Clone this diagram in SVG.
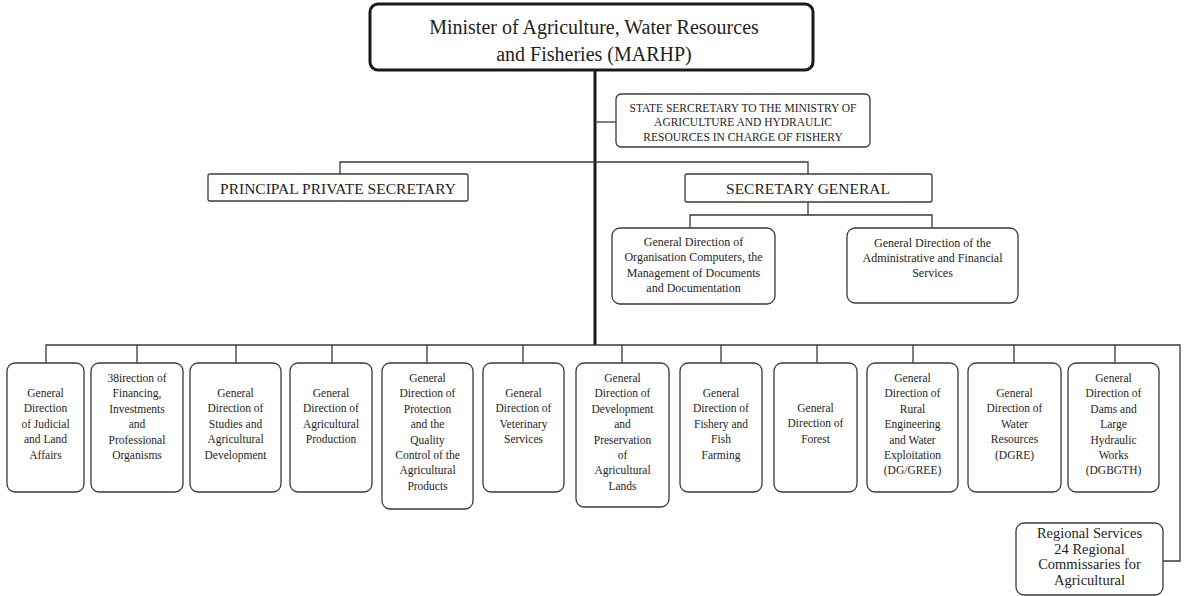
<svg xmlns="http://www.w3.org/2000/svg" width="1193" height="596" viewBox="0 0 1193 596">
<style>
text{font-family:"Liberation Serif","Times New Roman",serif;fill:#1e1e1e;text-anchor:middle}
.box{fill:#fff;stroke:#3a3a3a;stroke-width:1.3}
.t11{font-size:11.5px}
.t12{font-size:12px}
.t10{font-size:11.5px}
.t15{font-size:15.5px}
.t19{font-size:20px}
.t13{font-size:14.5px}
.ln{fill:none;stroke:#3a3a3a;stroke-width:1.3}
.main{fill:none;stroke:#1a1a1a;stroke-width:3}
</style>
<rect width="1193" height="596" fill="#fff"/>
<g id="connectors">
<path class="main" d="M595 70V345"/>
<path class="ln" d="M595 122H616"/>
<path class="ln" d="M340 174V162H808V174"/>
<path class="ln" d="M808 202V215M690 228V215H932V228"/>
<path class="ln" d="M46 363V345H1180V561H1163"/>
<path class="ln" d="M137 345V363M236 345V363M332 345V363M427 345V363M523 345V363M622 345V363M721 345V363M817 345V363M913 345V363M1014 345V363M1115 345V363"/>
</g>
<g id="minister">
<rect x="370" y="4" width="443" height="66" rx="8" fill="#fff" stroke="#1a1a1a" stroke-width="3"/>
<text class="t19" x="594" y="34">Minister of Agriculture, Water Resources</text>
<text class="t19" x="594" y="61">and Fisheries (MARHP)</text>
</g>
<g id="state-secretary">
<rect class="box" x="616" y="94" width="254" height="53" rx="5" stroke="#666"/>
<text class="t10" x="743" y="112">STATE SERCRETARY TO THE MINISTRY OF</text>
<text class="t10" x="743" y="126">AGRICULTURE AND HYDRAULIC</text>
<text class="t10" x="743" y="141">RESOURCES IN CHARGE OF FISHERY</text>
</g>
<g id="principal-private-secretary">
<rect class="box" x="208" y="174" width="260" height="27" rx="2"/>
<text class="t15" x="338" y="194">PRINCIPAL PRIVATE SECRETARY</text>
</g>
<g id="secretary-general">
<rect class="box" x="685" y="174" width="247" height="28" rx="2"/>
<text class="t15" x="808" y="194">SECRETARY GENERAL</text>
</g>
<g id="gd-organisation">
<rect class="box" x="612" y="228" width="163" height="76" rx="8"/>
<text class="t12" x="693.5" y="245.5">General Direction of</text>
<text class="t12" x="693.5" y="261">Organisation Computers, the</text>
<text class="t12" x="693.5" y="276.5">Management of Documents</text>
<text class="t12" x="693.5" y="292">and Documentation</text>
</g>
<g id="gd-administrative">
<rect class="box" x="847" y="228" width="171" height="75" rx="8"/>
<text class="t12" x="932.5" y="247">General Direction of the</text>
<text class="t12" x="932.5" y="262">Administrative and Financial</text>
<text class="t12" x="932.5" y="277">Services</text>
</g>
<g id="gd-judicial">
<rect class="box" x="7" y="363" width="77" height="129" rx="8"/>
<text class="t11" x="45.5" y="397">General</text>
<text class="t11" x="45.5" y="412.4">Direction</text>
<text class="t11" x="45.5" y="427.8">of Judicial</text>
<text class="t11" x="45.5" y="443.2">and Land</text>
<text class="t11" x="45.5" y="458.6">Affairs</text>
</g>
<g id="gd-financing">
<rect class="box" x="91" y="363" width="92" height="129" rx="8"/>
<text class="t11" x="137" y="382">38irection of</text>
<text class="t11" x="137" y="397.4">Financing,</text>
<text class="t11" x="137" y="412.8">Investments</text>
<text class="t11" x="137" y="428.2">and</text>
<text class="t11" x="137" y="443.6">Professional</text>
<text class="t11" x="137" y="459">Organisms</text>
</g>
<g id="gd-studies">
<rect class="box" x="190" y="363" width="91" height="129" rx="8"/>
<text class="t11" x="235.5" y="397">General</text>
<text class="t11" x="235.5" y="412.4">Direction of</text>
<text class="t11" x="235.5" y="427.8">Studies and</text>
<text class="t11" x="235.5" y="443.2">Agricultural</text>
<text class="t11" x="235.5" y="458.6">Development</text>
</g>
<g id="gd-production">
<rect class="box" x="290" y="363" width="82" height="129" rx="8"/>
<text class="t11" x="331" y="397">General</text>
<text class="t11" x="331" y="412.4">Direction of</text>
<text class="t11" x="331" y="427.8">Agricultural</text>
<text class="t11" x="331" y="443.2">Production</text>
</g>
<g id="gd-protection">
<rect class="box" x="382" y="363" width="91" height="146" rx="8"/>
<text class="t11" x="427.5" y="382">General</text>
<text class="t11" x="427.5" y="397.4">Direction of</text>
<text class="t11" x="427.5" y="412.8">Protection</text>
<text class="t11" x="427.5" y="428.2">and the</text>
<text class="t11" x="427.5" y="443.6">Quality</text>
<text class="t11" x="427.5" y="459">Control of the</text>
<text class="t11" x="427.5" y="474.4">Agricultural</text>
<text class="t11" x="427.5" y="489.8">Products</text>
</g>
<g id="gd-veterinary">
<rect class="box" x="483" y="363" width="81" height="129" rx="8"/>
<text class="t11" x="523.5" y="397">General</text>
<text class="t11" x="523.5" y="412.4">Direction of</text>
<text class="t11" x="523.5" y="427.8">Veterinary</text>
<text class="t11" x="523.5" y="443.2">Services</text>
</g>
<g id="gd-development">
<rect class="box" x="576" y="363" width="93" height="144" rx="8"/>
<text class="t11" x="622.5" y="382">General</text>
<text class="t11" x="622.5" y="397.4">Direction of</text>
<text class="t11" x="622.5" y="412.8">Development</text>
<text class="t11" x="622.5" y="428.2">and</text>
<text class="t11" x="622.5" y="443.6">Preservation</text>
<text class="t11" x="622.5" y="459">of</text>
<text class="t11" x="622.5" y="474.4">Agricultural</text>
<text class="t11" x="622.5" y="489.8">Lands</text>
</g>
<g id="gd-fishery">
<rect class="box" x="680" y="363" width="82" height="129" rx="8"/>
<text class="t11" x="721" y="397">General</text>
<text class="t11" x="721" y="412.4">Direction of</text>
<text class="t11" x="721" y="427.8">Fishery and</text>
<text class="t11" x="721" y="443.2">Fish</text>
<text class="t11" x="721" y="458.6">Farming</text>
</g>
<g id="gd-forest">
<rect class="box" x="774" y="363" width="83" height="129" rx="8"/>
<text class="t11" x="815.5" y="412">General</text>
<text class="t11" x="815.5" y="427.4">Direction of</text>
<text class="t11" x="815.5" y="442.8">Forest</text>
</g>
<g id="gd-rural">
<rect class="box" x="867" y="363" width="91" height="129" rx="8"/>
<text class="t11" x="912.5" y="382">General</text>
<text class="t11" x="912.5" y="397.4">Direction of</text>
<text class="t11" x="912.5" y="412.8">Rural</text>
<text class="t11" x="912.5" y="428.2">Engineering</text>
<text class="t11" x="912.5" y="443.6">and Water</text>
<text class="t11" x="912.5" y="459">Exploitation</text>
<text class="t11" x="912.5" y="474.4">(DG/GREE)</text>
</g>
<g id="gd-water">
<rect class="box" x="968" y="363" width="93" height="129" rx="8"/>
<text class="t11" x="1014.5" y="397">General</text>
<text class="t11" x="1014.5" y="412.4">Direction of</text>
<text class="t11" x="1014.5" y="427.8">Water</text>
<text class="t11" x="1014.5" y="443.2">Resources</text>
<text class="t11" x="1014.5" y="458.6">(DGRE)</text>
</g>
<g id="gd-dams">
<rect class="box" x="1068" y="363" width="91" height="129" rx="8"/>
<text class="t11" x="1113.5" y="382">General</text>
<text class="t11" x="1113.5" y="397.4">Direction of</text>
<text class="t11" x="1113.5" y="412.8">Dams and</text>
<text class="t11" x="1113.5" y="428.2">Large</text>
<text class="t11" x="1113.5" y="443.6">Hydraulic</text>
<text class="t11" x="1113.5" y="459">Works</text>
<text class="t11" x="1113.5" y="474.4">(DGBGTH)</text>
</g>
<g id="regional-services">
<rect class="box" x="1016" y="523" width="147" height="72" rx="8"/>
<text class="t13" x="1089.5" y="538">Regional Services</text>
<text class="t13" x="1089.5" y="553.5">24 Regional</text>
<text class="t13" x="1089.5" y="569">Commissaries for</text>
<text class="t13" x="1089.5" y="584.5">Agricultural</text>
</g>
</svg>
